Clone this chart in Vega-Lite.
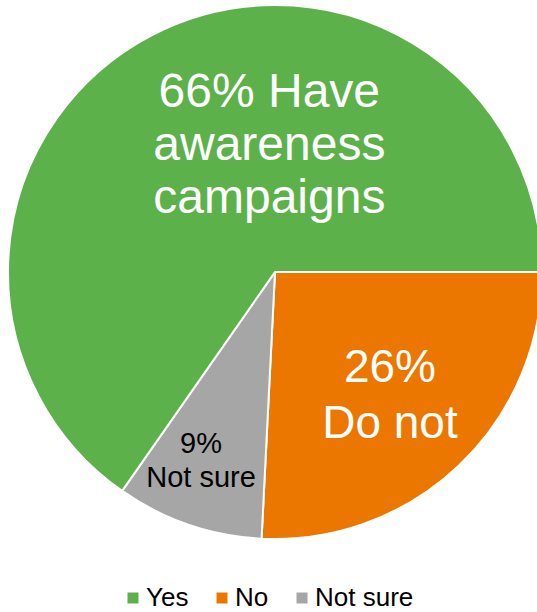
{
  "$schema": "https://vega.github.io/schema/vega-lite/v6.json",
  "width": 550,
  "height": 544,
  "padding": {"top": 0, "left": 0, "right": 0, "bottom": 68},
  "autosize": "none",
  "background": "white",
  "data": {
    "values": [
      {"category": "No", "value": 25.8, "rank": 1, "label": "26%\nDo not"},
      {"category": "Not sure", "value": 8.9, "rank": 2, "label": "9%\nNot sure"},
      {"category": "Yes", "value": 65.3, "rank": 3, "label": "66% Have\nawareness\ncampaigns"}
    ]
  },
  "encoding": {
    "theta": {"field": "value", "type": "quantitative", "stack": true, "scale": {"range": [1.5708, 7.854]}},
    "order": {"field": "rank", "type": "quantitative"}
  },
  "layer": [
    {
      "mark": {"type": "arc", "outerRadius": 267, "stroke": "white", "strokeWidth": 2},
      "encoding": {
        "color": {
          "field": "category",
          "type": "nominal",
          "scale": {"domain": ["Yes", "No", "Not sure"], "range": ["#5DB14B", "#EC7700", "#A6A6A6"]},
          "legend": {
            "title": null,
            "orient": "none",
            "legendX": 120,
            "legendY": 585,
            "padding": 0,
            "direction": "horizontal",
            "symbolType": "square",
            "symbolSize": 121,
            "symbolStrokeWidth": 0,
            "labelFont": "Liberation Sans",
            "labelFontSize": 26,
            "labelColor": "black",
            "columnPadding": 20,
            "labelOffset": 0
          }
        }
      }
    },
    {
      "mark": {"type": "text", "radius": 179, "thetaOffset": 0.449, "font": "Liberation Sans", "fontSize": 48, "color": "white", "lineBreak": "\n", "lineHeight": 53, "align": "center", "baseline": "middle"},
      "encoding": {
        "text": {"condition": {"test": "datum.category === 'Yes'", "field": "label"}, "value": ""}
      }
    },
    {
      "mark": {"type": "text", "radius": 150, "thetaOffset": -0.113, "font": "Liberation Sans", "fontSize": 46, "color": "white", "lineBreak": "\n", "lineHeight": 56, "align": "center", "baseline": "middle"},
      "encoding": {
        "text": {"condition": {"test": "datum.category === 'No'", "field": "label"}, "value": ""}
      }
    },
    {
      "mark": {"type": "text", "radius": 187, "thetaOffset": 0.077, "font": "Liberation Sans", "fontSize": 29, "color": "black", "lineBreak": "\n", "lineHeight": 34, "align": "center", "baseline": "middle"},
      "encoding": {
        "text": {"condition": {"test": "datum.category === 'Not sure'", "field": "label"}, "value": ""}
      }
    }
  ]
}
